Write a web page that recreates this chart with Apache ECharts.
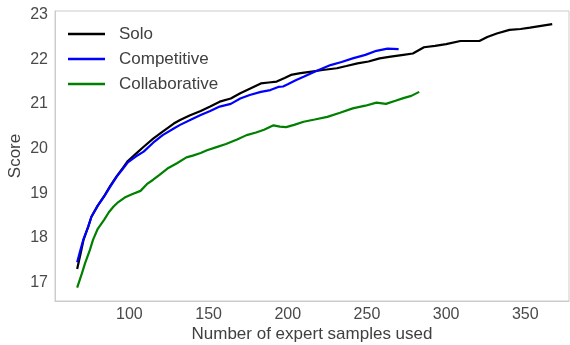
<!DOCTYPE html>
<html>
<head>
<meta charset="utf-8">
<script src="https://cdn.jsdelivr.net/npm/echarts@6/dist/echarts.min.js"></script>
<style>
html,body{margin:0;padding:0;background:#fff;}
#chart{width:570px;height:345px;}
</style>
</head>
<body>
<div id="chart"></div>
<script>
var seriesNames = ['Solo', 'Competitive', 'Collaborative'];
var xTicks = [100, 150, 200, 250, 300, 350];
var yTicks = [17, 18, 19, 20, 21, 22, 23];

var soloX = [67, 69, 71, 74, 76, 80, 84, 88, 92, 96, 99, 104, 109, 115, 121, 128, 132, 138, 145, 151, 157, 164, 170, 176, 183, 188, 193, 198, 202, 208, 214, 222, 231, 237, 244, 251, 258, 265, 273, 279, 286, 293, 300, 309, 315, 321, 326, 332, 340, 347, 353, 360, 367];
var soloY = [17.30, 17.62, 17.95, 18.25, 18.47, 18.72, 18.93, 19.17, 19.38, 19.57, 19.72, 19.88, 20.04, 20.22, 20.38, 20.56, 20.64, 20.74, 20.84, 20.94, 21.05, 21.12, 21.24, 21.34, 21.46, 21.48, 21.50, 21.58, 21.65, 21.69, 21.72, 21.76, 21.80, 21.85, 21.91, 21.95, 22.02, 22.06, 22.10, 22.13, 22.27, 22.30, 22.34, 22.41, 22.41, 22.41, 22.50, 22.58, 22.66, 22.68, 22.71, 22.75, 22.79];

var compX = [67, 69, 71, 74, 76, 80, 84, 88, 92, 96, 99, 104, 109, 115, 121, 128, 132, 139, 145, 151, 157, 164, 170, 176, 183, 189, 194, 197, 200, 205, 210, 218, 227, 234, 241, 249, 256, 263, 270];
var compY = [17.45, 17.72, 17.97, 18.25, 18.47, 18.72, 18.92, 19.15, 19.37, 19.55, 19.69, 19.82, 19.93, 20.13, 20.30, 20.45, 20.53, 20.65, 20.75, 20.84, 20.94, 21.00, 21.12, 21.20, 21.27, 21.31, 21.38, 21.39, 21.44, 21.53, 21.61, 21.74, 21.87, 21.94, 22.02, 22.10, 22.19, 22.24, 22.23];

var collabX = [67, 70, 72, 75, 77, 80, 84, 87, 90, 93, 97, 102, 107, 111, 115, 119, 124, 130, 136, 140, 145, 149, 155, 161, 168, 174, 180, 185, 191, 195, 199, 204, 210, 217, 225, 233, 241, 249, 256, 262, 268, 273, 278, 283];
var collabY = [16.88, 17.20, 17.43, 17.72, 17.95, 18.20, 18.40, 18.57, 18.70, 18.80, 18.90, 18.98, 19.05, 19.20, 19.30, 19.41, 19.55, 19.67, 19.80, 19.84, 19.90, 19.96, 20.03, 20.10, 20.20, 20.30, 20.36, 20.42, 20.52, 20.49, 20.48, 20.53, 20.60, 20.65, 20.71, 20.80, 20.90, 20.96, 21.03, 21.00, 21.07, 21.13, 21.18, 21.27];

function pairs(xs, ys) {
  return xs.map(function (x, i) { return [x, ys[i]]; });
}

var FONT = 'Liberation Sans, Arial, sans-serif';
var chart = echarts.init(document.getElementById('chart'), null, {renderer: 'canvas'});
chart.setOption({
  animation: false,
  backgroundColor: '#ffffff',
  grid: {left: 55, right: 1, top: 11, bottom: 44, show: true, borderColor: '#cccccc', borderWidth: 1, containLabel: false, outerBoundsMode: 'none'},
  legend: {
    orient: 'vertical',
    left: 63,
    top: 19,
    icon: 'rect',
    itemWidth: 37,
    itemHeight: 2.5,
    itemGap: 5,
    data: seriesNames,
    textStyle: {fontFamily: FONT, fontSize: 17, color: '#404040', lineHeight: 20, padding: [0, 0, 0, 9]}
  },
  xAxis: {
    type: 'value',
    min: 53,
    max: 377.6,
    name: 'Number of expert samples used',
    nameLocation: 'middle',
    nameGap: 25,
    nameMoveOverlap: false,
    nameTextStyle: {fontFamily: FONT, fontSize: 17, color: '#404040'},
    axisLine: {show: true, lineStyle: {color: '#cccccc', width: 1}},
    axisTick: {show: false},
    splitLine: {show: false},
    axisLabel: {customValues: xTicks, fontFamily: FONT, fontSize: 16, color: '#4a4a4a', margin: 6}
  },
  yAxis: {
    type: 'value',
    min: 16.581,
    max: 23.083,
    name: 'Score',
    nameLocation: 'middle',
    nameGap: 31,
    nameMoveOverlap: false,
    nameTextStyle: {fontFamily: FONT, fontSize: 17, color: '#404040'},
    axisLine: {show: true, lineStyle: {color: '#cccccc', width: 1}},
    axisTick: {show: false},
    splitLine: {show: false},
    axisLabel: {customValues: yTicks, fontFamily: FONT, fontSize: 16, color: '#4a4a4a', margin: 7}
  },
  series: [
    {name: seriesNames[0], type: 'line', data: pairs(soloX, soloY), symbol: 'none', lineStyle: {color: '#000000', width: 2.2}, itemStyle: {color: '#000000'}, z: 3},
    {name: seriesNames[1], type: 'line', data: pairs(compX, compY), symbol: 'none', lineStyle: {color: '#0000ff', width: 2.2}, itemStyle: {color: '#0000ff'}, z: 4},
    {name: seriesNames[2], type: 'line', data: pairs(collabX, collabY), symbol: 'none', lineStyle: {color: '#008000', width: 2.2}, itemStyle: {color: '#008000'}, z: 2}
  ]
});
</script>
</body>
</html>
